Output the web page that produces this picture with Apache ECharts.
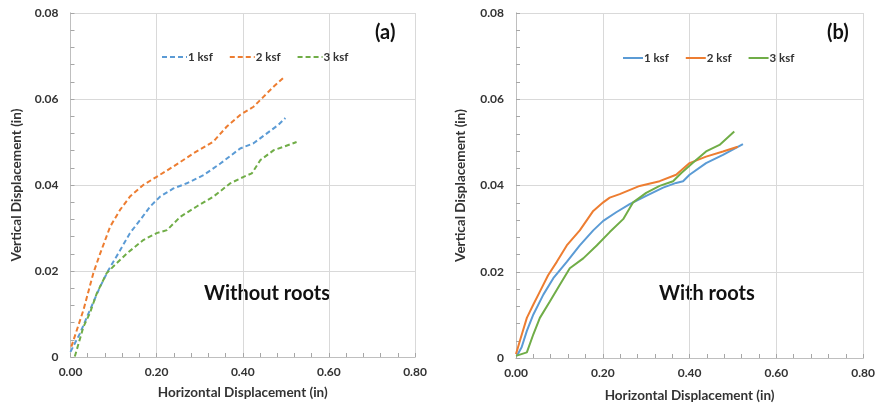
<!DOCTYPE html>
<html>
<head>
<meta charset="utf-8">
<script src="https://cdn.jsdelivr.net/npm/echarts@6/dist/echarts.min.js"></script>
<style>
  html, body { margin: 0; padding: 0; background: #fff; }
  #chart { width: 878px; height: 408px; }
</style>
</head>
<body>
<div id="chart"></div>
<script>
// panel (a) without roots: [horizontal, vertical] in inches
const noRoot1 = [[0.000,0.0012],[0.022,0.0055],[0.045,0.0109],[0.069,0.0164],[0.088,0.0202],[0.111,0.0241],[0.138,0.0288],[0.162,0.0319],[0.185,0.0350],[0.208,0.0373],[0.239,0.0392],[0.270,0.0404],[0.309,0.0423],[0.348,0.0450],[0.394,0.0485],[0.425,0.0497],[0.456,0.0520],[0.483,0.0540],[0.499,0.0556]];
const noRoot2 = [[0.002,0.0024],[0.030,0.0109],[0.053,0.0195],[0.069,0.0241],[0.092,0.0303],[0.115,0.0342],[0.138,0.0373],[0.169,0.0400],[0.200,0.0419],[0.239,0.0443],[0.286,0.0474],[0.332,0.0501],[0.363,0.0536],[0.394,0.0563],[0.425,0.0582],[0.448,0.0605],[0.472,0.0629],[0.495,0.0650]];
const noRoot3 = [[0.010,0.0001],[0.030,0.0070],[0.045,0.0102],[0.061,0.0148],[0.084,0.0195],[0.107,0.0218],[0.131,0.0241],[0.169,0.0272],[0.200,0.0288],[0.224,0.0295],[0.255,0.0326],[0.293,0.0350],[0.332,0.0373],[0.371,0.0404],[0.402,0.0419],[0.421,0.0427],[0.441,0.0458],[0.472,0.0481],[0.495,0.0489],[0.525,0.0500]];

// panel (b) with roots
const withRoot1 = [[0.002,0.0005],[0.013,0.0025],[0.025,0.0063],[0.040,0.0101],[0.063,0.0147],[0.086,0.0185],[0.117,0.0223],[0.147,0.0261],[0.178,0.0296],[0.201,0.0318],[0.231,0.0338],[0.262,0.0357],[0.300,0.0376],[0.339,0.0395],[0.369,0.0406],[0.385,0.0410],[0.400,0.0425],[0.438,0.0452],[0.477,0.0471],[0.523,0.0496]];
const withRoot2 = [[0.000,0.0009],[0.009,0.0040],[0.025,0.0093],[0.040,0.0124],[0.055,0.0154],[0.074,0.0192],[0.094,0.0223],[0.117,0.0261],[0.147,0.0296],[0.178,0.0341],[0.201,0.0361],[0.216,0.0372],[0.239,0.0380],[0.285,0.0399],[0.331,0.0410],[0.369,0.0425],[0.400,0.0452],[0.438,0.0467],[0.477,0.0479],[0.511,0.0490]];
const withRoot3 = [[0.000,0.0005],[0.025,0.0013],[0.040,0.0055],[0.055,0.0093],[0.078,0.0131],[0.101,0.0170],[0.124,0.0208],[0.155,0.0231],[0.186,0.0261],[0.216,0.0292],[0.247,0.0322],[0.270,0.0361],[0.300,0.0383],[0.331,0.0399],[0.362,0.0410],[0.381,0.0429],[0.407,0.0452],[0.438,0.0479],[0.469,0.0494],[0.503,0.0525]];

const loadNames = ['1 ksf', '2 ksf', '3 ksf'];
const colors = ['#5B9BD5', '#ED7D31', '#70AD47'];

const font = 'Lato, "Open Sans", sans-serif';
const textColor = '#333';

const chart = echarts.init(document.getElementById('chart'));

function xAxisFor(gridIndex, gap) {
  return {
    type: 'value', gridIndex: gridIndex, min: 0, max: 0.8, interval: 0.2,
    name: 'Horizontal Displacement (in)', nameLocation: 'middle', nameGap: gap,
    nameTextStyle: { fontFamily: font, fontWeight: 'bold', fontSize: 13.5, color: textColor },
    axisLabel: { fontFamily: font, fontWeight: 'bold', fontSize: 12, color: textColor, margin: 9,
      formatter: v => v.toFixed(2) },
    axisLine: { show: true, lineStyle: { color: '#bfbfbf' } },
    axisTick: { show: false },
    splitLine: { lineStyle: { color: '#d9d9d9' } }
  };
}

function yAxisFor(gridIndex, gap) {
  return {
    type: 'value', gridIndex: gridIndex, min: 0, max: 0.08, interval: 0.02,
    name: 'Vertical Displacement (in)', nameLocation: 'middle', nameGap: gap,
    nameTextStyle: { fontFamily: font, fontWeight: 'bold', fontSize: 13.5, color: textColor },
    axisLabel: { fontFamily: font, fontWeight: 'bold', fontSize: 12, color: textColor, margin: 12,
      formatter: v => v === 0 ? '0' : v.toFixed(2) },
    axisLine: { show: true, lineStyle: { color: '#bfbfbf' } },
    axisTick: { show: false },
    splitLine: { lineStyle: { color: '#d9d9d9' } }
  };
}

// second axis per side, only for the small inside ticks
function tickAxis(gridIndex, pos, max, step) {
  return {
    type: 'value', gridIndex: gridIndex, position: pos, min: 0, max: max, interval: step,
    axisLabel: { show: false },
    splitLine: { show: false },
    axisLine: { show: true, lineStyle: { color: '#bfbfbf' } },
    axisTick: { show: true, inside: true, length: 4, lineStyle: { color: '#a6a6a6' } }
  };
}

function lineSeries(name, data, idx, gridIdx, dashed) {
  return {
    name: name, type: 'line', data: data,
    xAxisIndex: gridIdx, yAxisIndex: gridIdx,
    showSymbol: false, symbol: 'none', smooth: false,
    lineStyle: { color: colors[idx], width: 2, type: dashed ? [5, 3] : 'solid' },
    itemStyle: { color: colors[idx] },
    emphasis: { disabled: true }
  };
}

const setsA = [noRoot1, noRoot2, noRoot3];
const setsB = [withRoot1, withRoot2, withRoot3];
const series = [];
setsA.forEach((d, i) => series.push(lineSeries(loadNames[i] + ' (a)', d, i, 0, true)));
setsB.forEach((d, i) => series.push(lineSeries(loadNames[i] + ' (b)', d, i, 1, false)));

function legendFor(tag, left, top, w) {
  return {
    data: loadNames.map(n => n + ' ' + tag),
    left: left, top: top, itemWidth: w, itemHeight: 8, itemGap: 16,
    selectedMode: false,
    itemStyle: { opacity: 0 },
    formatter: n => n.split(' (')[0],
    textStyle: { fontFamily: font, fontWeight: 'bold', fontSize: 11.5, color: textColor, padding: [0, 0, 0, -4] }
  };
}

function label(text, x, y, size) {
  return {
    type: 'text', left: x, top: y,
    style: { text: text, fontFamily: font, fontWeight: 'bold', fontSize: size, fill: '#111' }
  };
}

chart.setOption({
  animation: false,
  textStyle: { fontFamily: font },
  grid: [
    { left: 70.5, right: 463, top: 13, bottom: 51 },
    { left: 516, right: 14, top: 13, bottom: 47 }
  ],
  xAxis: [xAxisFor(0, 29), xAxisFor(1, 31), tickAxis(0, 'bottom', 0.8, 0.04), tickAxis(1, 'bottom', 0.8, 0.04)],
  yAxis: [yAxisFor(0, 47), yAxisFor(1, 48), tickAxis(0, 'left', 0.08, 0.004), tickAxis(1, 'left', 0.08, 0.004)],
  legend: [
    legendFor('(a)', 156, 46, 25),
    legendFor('(b)', 617, 47, 20)
  ],
  graphic: [
    label('(a)', 375, 23, 20),
    label('Without roots', 204, 284, 20),
    label('(b)', 827, 23, 20),
    label('With roots', 659, 284, 20)
  ],
  series: series
});
</script>
</body>
</html>
